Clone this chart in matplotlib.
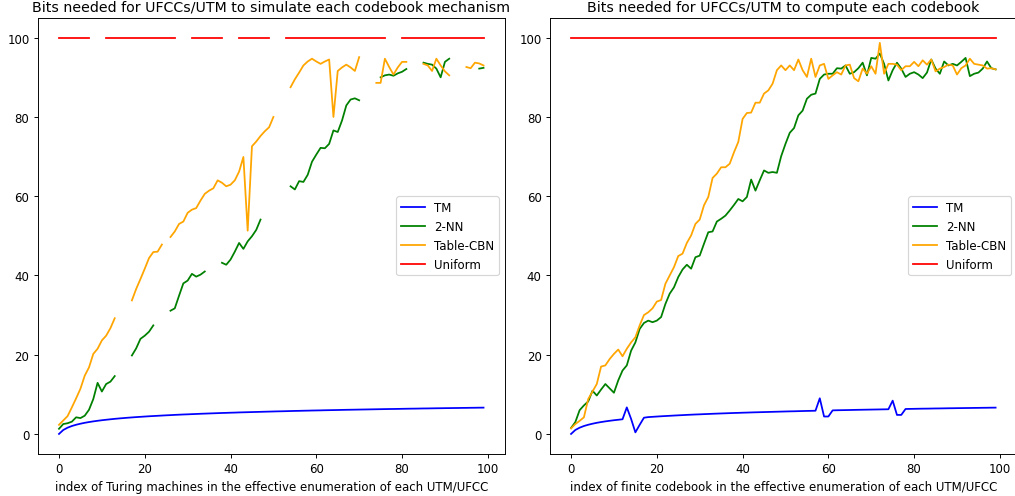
import matplotlib
matplotlib.use("Agg")
import matplotlib.pyplot as plt
import numpy as np

nan = np.nan

# index of machine / codebook
x = list(range(100))

# left panel: simulate each codebook mechanism (gaps = missing values)
tm_left = [0.00, 1.00, 1.58, 2.00, 2.32, 2.58, 2.81, 3.00, 3.17, 3.32,
           3.46, 3.58, 3.70, 3.81, 3.91, 4.00, 4.09, 4.17, 4.25, 4.32,
           4.39, 4.46, 4.52, 4.58, 4.64, 4.70, 4.75, 4.81, 4.86, 4.91,
           4.95, 5.00, 5.04, 5.09, 5.13, 5.17, 5.21, 5.25, 5.29, 5.32,
           5.36, 5.39, 5.43, 5.46, 5.49, 5.52, 5.55, 5.58, 5.61, 5.64,
           5.67, 5.70, 5.72, 5.75, 5.78, 5.81, 5.83, 5.86, 5.88, 5.91,
           5.93, 5.95, 5.98, 6.00, 6.02, 6.04, 6.07, 6.09, 6.11, 6.13,
           6.15, 6.17, 6.19, 6.21, 6.23, 6.25, 6.27, 6.29, 6.30, 6.32,
           6.34, 6.36, 6.38, 6.39, 6.41, 6.43, 6.44, 6.46, 6.48, 6.49,
           6.51, 6.52, 6.54, 6.55, 6.57, 6.58, 6.60, 6.61, 6.63, 6.64]

nn_left = [1.3, 2.5, 2.7, 3.1, 4.2, 4.0, 4.6, 6.1, 8.8, 12.9,
           10.7, 12.6, 13.2, 14.6, nan, nan, nan, 19.8, 21.6, 24.0,
           24.8, 25.8, 27.4, nan, nan, nan, 31.1, 31.7, 34.9, 38.0,
           38.7, 40.4, 39.7, 40.2, 41.0, nan, nan, nan, 43.2, 42.7,
           44.0, 46.0, 48.2, 46.7, 48.6, 49.9, 51.5, 54.1, nan, nan,
           nan, nan, nan, nan, 62.5, 61.7, 63.8, 63.6, 65.4, 68.7,
           70.5, 72.2, 72.1, 73.2, 76.6, 76.2, 79.1, 82.9, 84.4, 84.7,
           84.2, nan, nan, nan, nan, 90.0, 90.5, 90.7, 90.4, 91.0,
           91.4, 92.1, nan, nan, nan, 93.7, 93.4, 93.2, 92.2, 90.0,
           93.9, 94.7, nan, nan, nan, nan, nan, nan, 92.2, 92.4]

cbn_left = [2.3, 3.4, 4.5, 6.7, 9.0, 11.4, 14.7, 16.8, 20.2, 21.5,
            23.6, 24.8, 26.7, 29.2, nan, nan, nan, 33.7, 36.6, 39.1,
            41.7, 44.4, 45.9, 46.0, 47.8, nan, 49.7, 51.1, 53.0, 53.6,
            55.8, 56.6, 57.0, 58.9, 60.6, 61.4, 62.0, 64.0, 63.4, 62.5,
            62.9, 64.0, 66.2, 69.9, 51.3, 72.6, 73.8, 75.2, 76.4, 77.4,
            80.0, nan, nan, nan, 87.5, 89.5, 91.2, 93.0, 94.0, 94.7,
            94.0, 93.4, 94.0, 94.5, 80.0, 91.6, 92.5, 93.2, 92.5, 91.6,
            95.1, nan, nan, nan, 88.6, 88.6, 94.7, 92.6, 90.7, 92.5,
            93.9, 93.9, nan, nan, nan, 93.4, 93.0, 91.6, 94.7, 93.0,
            91.5, 90.5, nan, nan, nan, 92.6, 92.3, 93.7, 93.5, 93.0]

uni_left = [100, 100, 100, 100, 100, 100, 100, 100, nan, nan,
            nan, 100, 100, 100, 100, 100, 100, 100, 100, 100,
            100, 100, 100, 100, 100, 100, 100, 100, nan, nan,
            nan, 100, 100, 100, 100, 100, 100, 100, 100, nan,
            nan, nan, 100, 100, 100, 100, 100, 100, 100, 100,
            nan, nan, nan, 100, 100, 100, 100, 100, 100, 100,
            100, 100, 100, 100, 100, 100, 100, 100, 100, 100,
            100, 100, 100, 100, 100, 100, 100, nan, nan, nan,
            100, 100, 100, 100, 100, 100, 100, 100, 100, 100,
            100, 100, 100, 100, 100, 100, 100, 100, 100, 100]

# right panel: compute each codebook
tm_right = [0.00, 1.00, 1.58, 2.00, 2.32, 2.58, 2.81, 3.00, 3.17, 3.32,
            3.46, 3.58, 3.70, 6.70, 3.80, 0.40, 2.30, 4.10, 4.25, 4.32,
            4.39, 4.46, 4.52, 4.58, 4.64, 4.70, 4.75, 4.81, 4.86, 4.91,
            4.95, 5.00, 5.04, 5.09, 5.13, 5.17, 5.21, 5.25, 5.29, 5.32,
            5.36, 5.39, 5.43, 5.46, 5.49, 5.52, 5.55, 5.58, 5.61, 5.64,
            5.67, 5.70, 5.72, 5.75, 5.78, 5.81, 5.83, 5.86, 9.00, 4.40,
            4.40, 5.95, 5.98, 6.00, 6.02, 6.04, 6.07, 6.09, 6.11, 6.13,
            6.15, 6.17, 6.19, 6.21, 6.23, 8.40, 4.80, 4.80, 6.30, 6.32,
            6.34, 6.36, 6.38, 6.39, 6.41, 6.43, 6.44, 6.46, 6.48, 6.49,
            6.51, 6.52, 6.54, 6.55, 6.57, 6.58, 6.60, 6.61, 6.63, 6.64]

nn_right = [1.5, 3.0, 6.0, 7.2, 8.2, 10.9, 9.7, 11.2, 12.6, 11.5,
            10.4, 13.5, 16.0, 17.3, 21.0, 23.1, 26.5, 28.0, 28.6, 28.2,
            28.6, 29.5, 32.8, 35.4, 37.0, 39.6, 41.5, 42.7, 41.7, 44.6,
            45.0, 48.0, 50.9, 51.1, 53.6, 54.3, 55.1, 56.4, 57.8, 59.3,
            58.7, 59.8, 64.2, 61.4, 64.0, 66.5, 65.9, 66.1, 65.9, 70.1,
            73.2, 76.0, 77.2, 80.4, 81.6, 84.6, 85.6, 85.9, 89.6, 90.7,
            90.9, 90.9, 92.3, 92.2, 93.0, 90.9, 91.3, 92.3, 93.7, 90.5,
            94.9, 94.7, 96.0, 93.4, 89.2, 91.8, 93.7, 92.2, 90.1, 90.9,
            91.3, 90.7, 89.8, 91.2, 94.5, 92.2, 90.9, 94.0, 93.0, 93.4,
            93.0, 93.9, 94.9, 90.3, 90.9, 91.2, 92.2, 94.0, 92.3, 92.0]

cbn_right = [1.4, 2.5, 3.3, 4.2, 8.8, 10.7, 12.6, 17.0, 17.3, 18.9,
             20.2, 21.3, 19.6, 21.5, 23.1, 24.4, 27.4, 30.0, 30.7, 31.7,
             33.4, 33.8, 37.9, 40.0, 42.1, 44.9, 45.5, 48.2, 50.1, 53.0,
             54.1, 57.7, 59.8, 64.6, 65.7, 67.3, 67.3, 68.2, 71.1, 73.7,
             79.5, 81.0, 81.1, 83.6, 83.6, 85.9, 86.7, 88.4, 91.8, 93.0,
             91.8, 93.0, 91.8, 94.5, 91.8, 90.1, 94.7, 90.1, 93.0, 93.4,
             89.6, 90.5, 91.3, 90.7, 93.0, 93.2, 89.8, 89.0, 92.2, 90.9,
             92.8, 90.9, 98.7, 90.9, 93.4, 93.4, 93.2, 91.8, 92.8, 92.8,
             93.9, 92.8, 94.3, 93.2, 94.5, 91.5, 92.2, 92.6, 93.2, 93.0,
             90.7, 92.3, 93.0, 94.7, 93.4, 93.2, 93.0, 92.2, 92.3, 92.0]

uni_right = [100] * 100

fig = plt.figure(figsize=(1015 / 85, 497 / 85), dpi=85)
ax1 = fig.add_axes([0.0372, 0.085, 0.4601, 0.877])
ax2 = fig.add_axes([0.5417, 0.085, 0.4601, 0.877])

ax1.plot(x, tm_left, color="blue", label="TM")
ax1.plot(x, nn_left, color="green", label="2-NN")
ax1.plot(x, cbn_left, color="orange", label="Table-CBN")
ax1.plot(x, uni_left, color="red", label="Uniform")
ax1.set_title("Bits needed for UFCCs/UTM to simulate each codebook mechanism")
ax1.set_xlabel("index of Turing machines in the effective enumeration of each UTM/UFCC")
ax1.legend(loc="center right")

ax2.plot(x, tm_right, color="blue", label="TM")
ax2.plot(x, nn_right, color="green", label="2-NN")
ax2.plot(x, cbn_right, color="orange", label="Table-CBN")
ax2.plot(x, uni_right, color="red", label="Uniform")
ax2.set_title("Bits needed for UFCCs/UTM to compute each codebook")
ax2.set_xlabel("index of finite codebook in the effective enumeration of each UTM/UFCC")
ax2.legend(loc="center right")

for ax in (ax1, ax2):
    ax.set_ylim(-5, 105)

fig.savefig("out.png", dpi=85)
